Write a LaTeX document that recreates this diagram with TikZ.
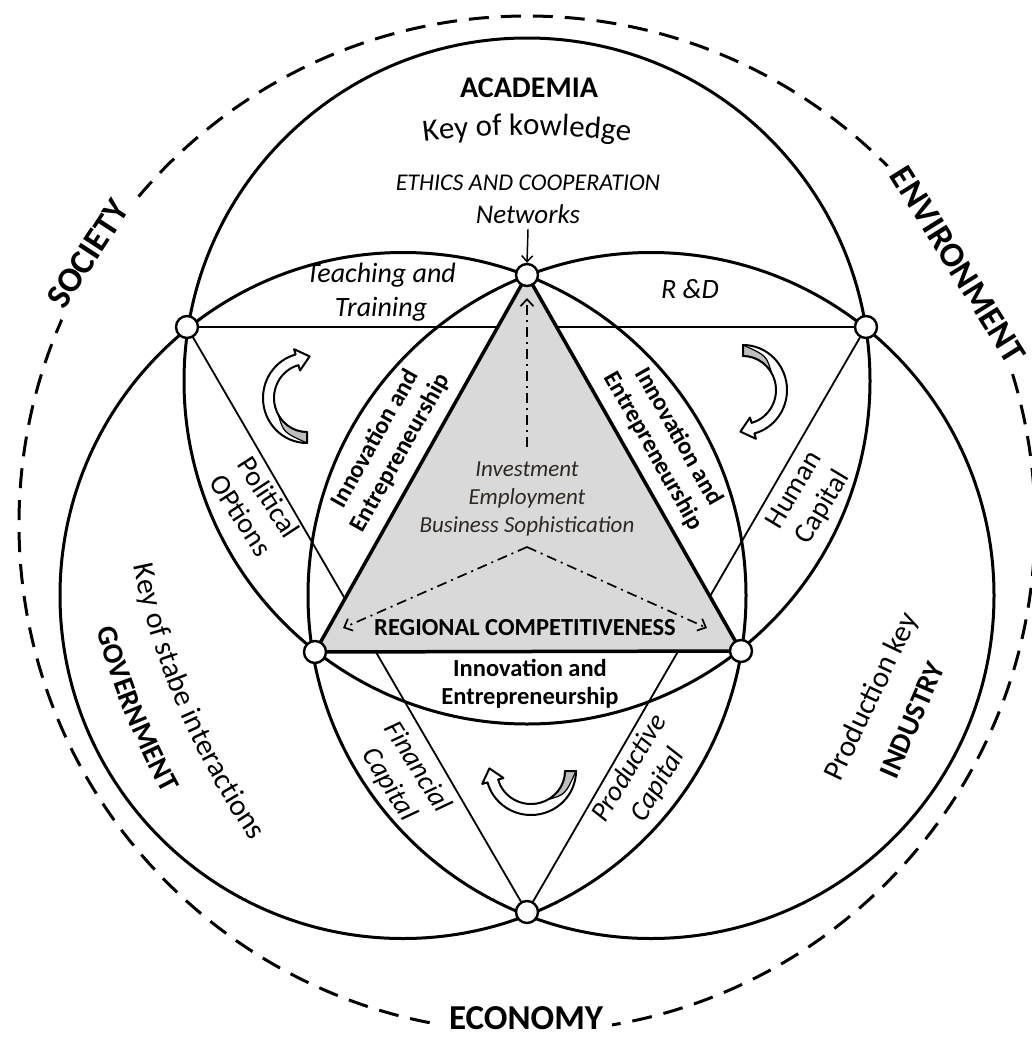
\documentclass[tikz,border=0pt]{standalone}
\usepackage{fontspec}
\setmainfont{Carlito}
\usetikzlibrary{arrows.meta,calc,decorations.text}
\definecolor{triG}{RGB}{217,217,217}
\definecolor{ctxt}{RGB}{46,40,35}
\definecolor{arrG}{RGB}{190,190,190}
\newcommand{\fsz}[2]{\fontsize{#1}{#2}\selectfont}
\newcommand{\cvarrow}[3]{%
  \begin{scope}[shift={(#1,#2)},y=1pt,rotate=#3]
    \fill[white] (270:44 and 45) arc[start angle=270,end angle=105,x radius=44,y radius=45]
      -- (-12.9,48.8) -- (2.6,41.6) -- (-7.0,27.5) -- (105:33 and 34)
      arc[start angle=105,end angle=270,x radius=33,y radius=34] -- cycle;
    \filldraw[fill=arrG,line width=1.2pt] (270:44 and 45) -- (270:33 and 34)
      arc[start angle=270,end angle=210,x radius=33,y radius=34]
      .. controls (-23.5,-34.4) .. (270:44 and 45) -- cycle;
    \draw[line width=2pt,line join=round] (270:44 and 45) arc[start angle=270,end angle=105,x radius=44,y radius=45]
      -- (-12.9,48.8) -- (2.6,41.6) -- (-7.0,27.5) -- (105:33 and 34)
      arc[start angle=105,end angle=270,x radius=33,y radius=34] -- cycle;
  \end{scope}}
\begin{document}
\begin{tikzpicture}[x=1pt,y=-1pt,
  bigc/.style={draw=black,line width=3pt},
  thinl/.style={draw=black,line width=1.8pt,line join=round},
  vtx/.style={circle,draw=black,fill=white,line width=2.4pt,minimum size=22pt,inner sep=0pt},
  dd/.style={line width=1.7pt,dash pattern=on 10pt off 5pt on 2pt off 5pt,-{Straight Barb[length=7pt,width=13pt,line width=1.7pt]}},
  lab/.style={inner sep=0pt,align=center},
  ringlab/.style={fill=white,inner xsep=9pt,inner ysep=5pt,font=\fsz{35}{42}\bfseries},
]
\useasboundingbox (0,0) rectangle (1031,1039);
\coordinate (O) at (527,524);
\coordinate (T) at (527,275);
\coordinate (LB) at (315,652);
\coordinate (RB) at (741,651);
\coordinate (LT) at (187,327);
\coordinate (RT) at (866,327);
\coordinate (B) at (527,912);
\coordinate (cA) at (527,381);
\coordinate (cG) at (403,595.5);
\coordinate (cI) at (651,595.5);

% outer dashed ring
\draw[line width=3pt,dash pattern=on 20pt off 12pt] (O) circle[radius=508];

% thin inverted triangle
\draw[thinl] (LT) -- (RT) -- (B) -- cycle;

% three big circles
\draw[bigc] (cA) circle[radius=343];
\draw[bigc] (cG) circle[radius=343];
\draw[bigc] (cI) circle[radius=343];

% grey triangle
\filldraw[fill=triG,draw=black,line width=3.5pt,line join=round] (T) -- (LB) -- (RB) -- cycle;

% dash-dot arrows
\coordinate (ddS) at (527,447);
\coordinate (ddE) at (527,298);
\coordinate (apex) at (527,547);
\coordinate (tipL) at (343,628);
\coordinate (tipR) at (707,628);
\draw[dd] (ddS) -- (ddE);
\draw[dd] (apex) -- (tipL);
\draw[dd] (apex) -- (tipR);

% vertices
\foreach \p in {T,LB,RB,LT,RT,B} \node[vtx] (n\p) at (\p) {};

% curved block arrows
\cvarrow{307}{398}{0}
\cvarrow{743}{390}{180}
\cvarrow{531}{771}{90}

% ring labels
\node[ringlab,rotate=57] (soc) at (88,254) {SOCIETY};
\node[ringlab,anchor=base] (eco) at (526,1029) {ECONOMY};
\node[ringlab,rotate=-58] (env) at (958,265) {ENVIRONMENT};

% top texts
\node[lab,font=\fsz{30}{36}\bfseries,anchor=base] (acad) at (529,97) {ACADEMIA};
\path[decorate,decoration={text along path,text align=center,
  text={|\fsz{31}{37}|Key of kowledge}}]
  ($(527,931)+(250:796)$) arc[start angle=250,end angle=290,radius=796];
\node[lab,font=\fsz{24}{29}\itshape,anchor=base] (ethics) at (528,190) {ETHICS AND COOPERATION};
\node[lab,font=\fsz{27}{32}\itshape,anchor=base] (netw) at (528,223) {Networks};
\draw[line width=1.5pt,-{Straight Barb[length=6pt,width=11pt,line width=1.5pt]}] ([yshift=-6pt]netw.south) -- (nT.north);

\node[lab,font=\fsz{28}{34}\itshape] (teach) at (381,292) {Teaching and\\Training};
\node[lab,font=\fsz{28}{34}\itshape,anchor=base] (rd) at (690,298) {R \&D};

% innovation labels
\node[lab,font=\fsz{24.5}{29}\bfseries,rotate=60.6] (ieL) at (388,446) {Innovation and\\Entrepreneurship};
\node[lab,font=\fsz{24.5}{29}\bfseries,rotate=-60.4] (ieR) at (666,444) {Innovation and\\Entrepreneurship};
\node[lab,font=\fsz{24.5}{28}\bfseries] (ieB) at (530,684) {Innovation and\\Entrepreneurship};
\node[lab,font=\fsz{24.5}{29}\bfseries,anchor=base] (rc) at (525,635) {REGIONAL COMPETITIVENESS};
\node[lab,font=\fsz{23}{28}\itshape,text=ctxt] (inv) at (527,499) {Investment\\Employment\\Business Sophistication};

% capital labels
\node[lab,font=\fsz{28.5}{33},rotate=-57] (pol) at (255,506) {Political\\OPtions};
\node[lab,font=\fsz{28.5}{33},rotate=59] (hum) at (809,499) {Human\\Capital};
\node[lab,font=\fsz{28}{33}\itshape,rotate=-58] (fin) at (403,776) {Financial\\Capital};
\node[lab,font=\fsz{28}{33}\itshape,rotate=59] (prod) at (644,777) {Productive\\Capital};

% government
\path[decorate,decoration={text along path,text align=center,
  text={|\fsz{30}{36}|Key of stabe interactions}}]
  ($(858,419)+(176.85:739)$) arc[start angle=176.85,end angle=136.85,radius=739];
\path[decorate,decoration={text along path,text align=center,
  text={|\fsz{29}{35}\bfseries|GOVERNMENT}}]
  ($(858,419)+(178.1:790)$) arc[start angle=178.1,end angle=138.1,radius=790];

% industry
\node[lab,font=\fsz{30}{36},rotate=64.5] (prodkey) at (872,697) {Production key};
\node[lab,font=\fsz{29}{35}\bfseries,rotate=66.5] (ind) at (912,720) {INDUSTRY};
\end{tikzpicture}
\end{document}
